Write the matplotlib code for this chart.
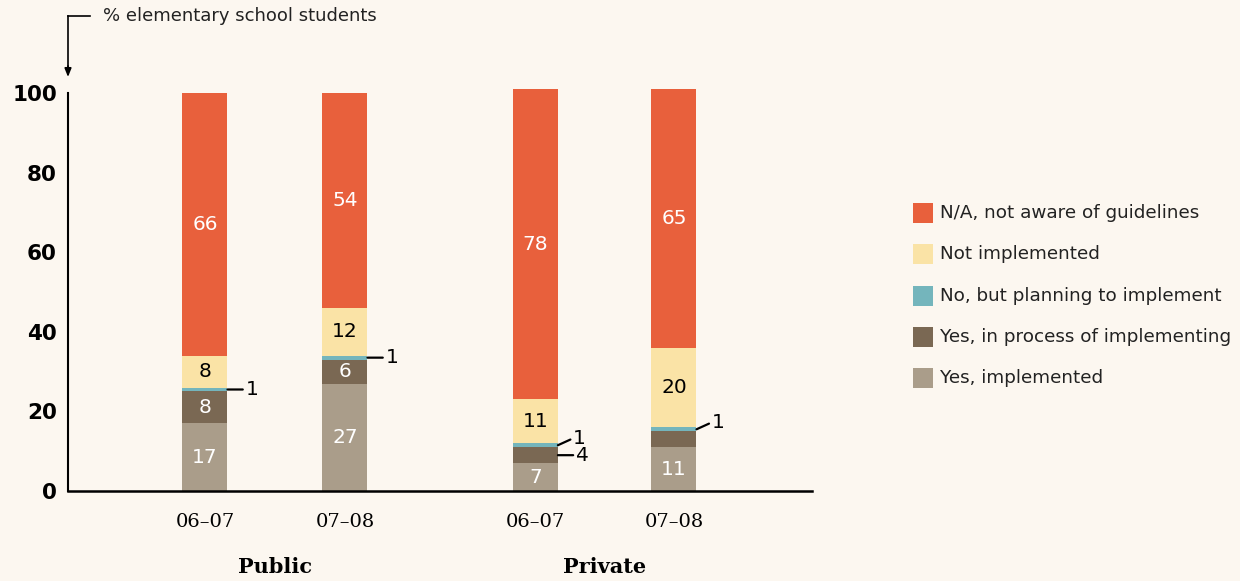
import matplotlib
matplotlib.use("Agg")
import matplotlib.pyplot as plt
from matplotlib.lines import Line2D

# Survey data: % of elementary school students
groups = ["Public", "Private"]
years = ["06–07", "07–08", "06–07", "07–08"]
series = [
    "Yes, implemented",
    "Yes, in process of implementing",
    "No, but planning to implement",
    "Not implemented",
    "N/A, not aware of guidelines",
]
yes_implemented = [17, 27, 7, 11]
in_process = [8, 6, 4, 4]
planning = [1, 1, 1, 1]
not_implemented = [8, 12, 11, 20]
not_aware = [66, 54, 78, 65]

values = [yes_implemented, in_process, planning, not_implemented, not_aware]
colors = ["#AA9D8A", "#7A6853", "#74B5BC", "#FAE3A6", "#E8603C"]
label_colors = ["white", "white", None, "black", "white"]

bg = "#FCF7F0"
positions = [1.0, 2.0, 3.36, 4.35]
group_centers = [1.5, 3.855]

fig = plt.figure(figsize=(12.4, 5.81), dpi=100, facecolor=bg)
ax = fig.add_axes([68 / 1240, 1 - 491 / 581, (812 - 68) / 1240, (491 - 85) / 581])
ax.set_facecolor(bg)

bar_w = 45 / 140
bottoms = [0] * len(positions)
segments = []
for vals, col in zip(values, colors):
    ax.bar(positions, vals, bottom=bottoms, width=bar_w, color=col, linewidth=0)
    segments.append(list(zip(bottoms, vals)))
    bottoms = [b + v for b, v in zip(bottoms, vals)]

# in-bar value labels
num_font = dict(family="DejaVu Sans", fontsize=14.5, fontweight="medium")
for si, (segs, lc) in enumerate(zip(segments, label_colors)):
    if lc is None:
        continue
    for xi, (b, v) in enumerate(segs):
        if si == 1 and xi == 3:
            continue  # too thin to label
        if si == 1 and xi == 2:
            continue  # labelled outside
        ax.text(positions[xi], b + v / 2, str(v), ha="center", va="center",
                color=lc, **num_font)

# leader labels for thin segments
def leader(xi, si, dx_pts, dy_pts):
    b, v = segments[si][xi]
    y = b + v / 2
    x = positions[xi] + bar_w / 2
    ax.annotate(str(v), xy=(x, y), xytext=(dx_pts, dy_pts), textcoords="offset points",
                ha="left", va="center", color="black", **num_font,
                arrowprops=dict(arrowstyle="-", color="black", lw=1.6,
                                shrinkA=0, shrinkB=0, relpos=(0, 0.5)))

leader(0, 2, 13, 0)
leader(1, 2, 13, 0)
leader(2, 2, 11, 5)
leader(2, 1, 13, 0)
leader(3, 2, 11, 5)

ax.set_xlim(1 - 137 / 140, 1 + (812 - 205) / 140)
ax.set_ylim(0, 102)
ax.set_yticks([0, 20, 40, 60, 80, 100])
ax.set_yticklabels(["0", "20", "40", "60", "80", "100"], fontsize=15.5,
                   fontweight="heavy", family="DejaVu Sans")
ax.tick_params(axis="y", length=0, pad=8)
ax.set_xticks(positions)
ax.set_xticklabels(years, family="DejaVu Serif", fontsize=14)
ax.tick_params(axis="x", length=0, pad=16)
for s in ["top", "right"]:
    ax.spines[s].set_visible(False)
ax.spines["left"].set_bounds(0, 100)
ax.spines["left"].set_linewidth(1.5)
ax.spines["bottom"].set_linewidth(1.8)

for gx, g in zip(group_centers, groups):
    ax.text(gx, -19, g, ha="center", va="center", family="DejaVu Serif",
            fontsize=15, fontweight="bold", transform=ax.transData)

# axis title with leader arrow
def fx(px):
    return px / 1240

def fy(py):
    return 1 - py / 581

fig.add_artist(Line2D([fx(68), fx(90)], [fy(16), fy(16)], color="black", lw=1.2))
fig.add_artist(Line2D([fx(68), fx(68)], [fy(16), fy(70)], color="black", lw=1.2))
ax.annotate("", xy=(fx(68), fy(77)), xytext=(fx(68), fy(66)), xycoords="figure fraction",
            textcoords="figure fraction",
            arrowprops=dict(arrowstyle="-|>,head_length=0.5,head_width=0.2",
                            color="black", lw=1.2, shrinkA=0, shrinkB=0))
fig.text(fx(103), fy(16), "% elementary school students", ha="left", va="center",
         fontsize=13, family="DejaVu Sans", color="#222222")

# legend
leg_rows = [213, 254, 296, 337, 378]
for name, col, py in zip(series[::-1], colors[::-1], leg_rows):
    fig.patches.append(plt.Rectangle((fx(913), fy(py + 10)), 20 / 1240, 20 / 581,
                                     transform=fig.transFigure, color=col, lw=0))
    fig.text(fx(940), fy(py), name, ha="left", va="center", fontsize=13.2,
             family="DejaVu Sans", color="#222222")

fig.savefig("out.png", dpi=100, facecolor=bg)
